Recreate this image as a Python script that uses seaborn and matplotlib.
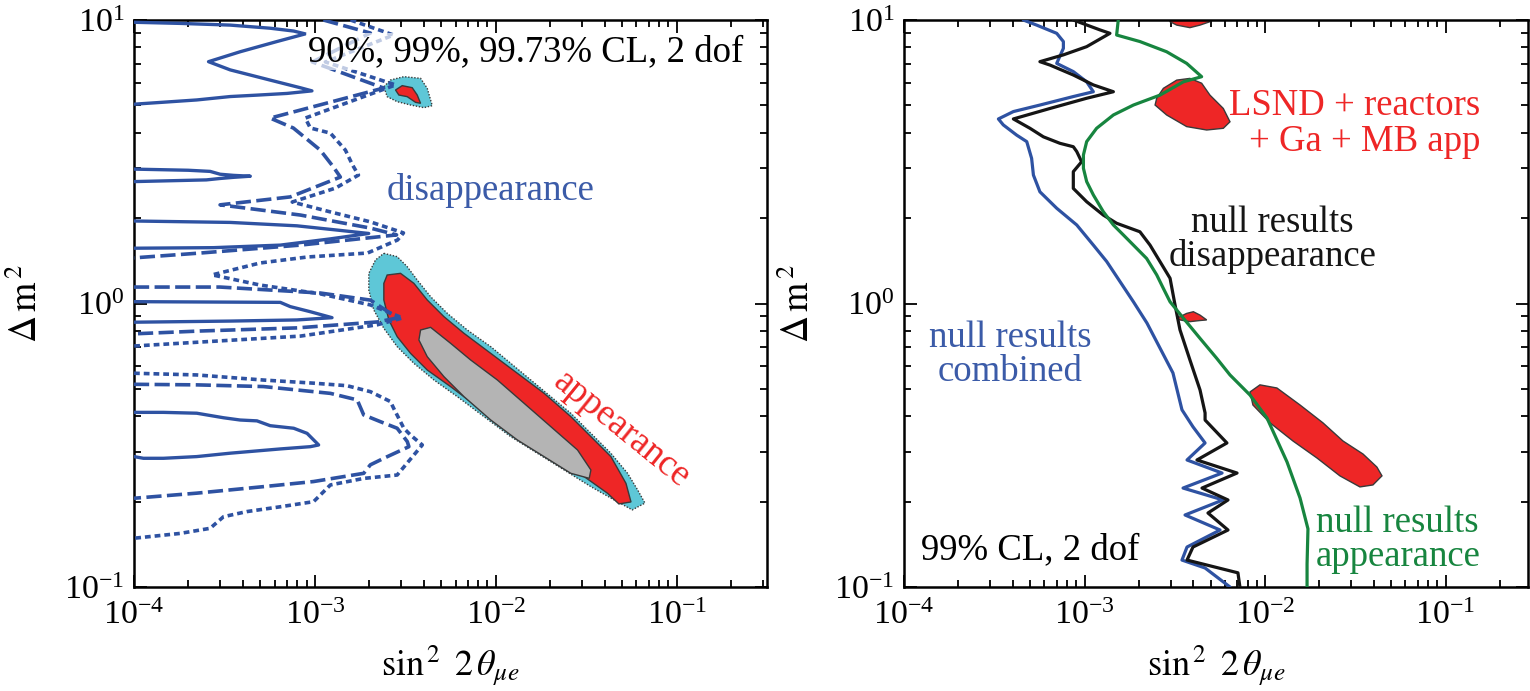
import numpy as np
import matplotlib
matplotlib.use("Agg")
import matplotlib.pyplot as plt
import seaborn as sns
from matplotlib.ticker import LogLocator, LogFormatterMathtext, NullFormatter

# ---------------- data (log10 of sin^2 2theta_mue and of Delta m^2) ----------------
# Left panel: disappearance contours
dis90_top_lx = [-4.0, -3.745, -3.468, -3.247, -3.117, -3.053, -3.210, -3.413, -3.588, -3.468,
                -3.247, -3.080, -3.016, -3.154, -3.320, -3.468, -3.653, -3.837, -4.0]
dis90_top_ly = [0.992, 0.988, 0.982, 0.971, 0.961, 0.951, 0.924, 0.888, 0.853, 0.824,
                0.788, 0.761, 0.750, 0.741, 0.735, 0.730, 0.718, 0.710, 0.703]
dis90_mid_lx = [-4.0, -3.70, -3.579, -3.524, -3.45, -3.357, -3.45, -3.524, -3.60, -4.0]
dis90_mid_ly = [0.474, 0.470, 0.466, 0.456, 0.452, 0.449, 0.445, 0.441, 0.436, 0.430]
dis90_spk_lx = [-4.0, -3.468, -3.099, -2.877, -2.702, -2.914, -3.191, -3.560, -4.0]
dis90_spk_ly = [0.291, 0.286, 0.274, 0.259, 0.247, 0.228, 0.206, 0.197, 0.195]
dis90_one_lx = [-4.0, -3.191, -3.136, -3.025, -2.905, -3.099, -3.468, -4.0]
dis90_one_ly = [0.0065, 0.004, -0.011, -0.029, -0.050, -0.058, -0.062, -0.066]
dis90_low_lx = [-4.0, -3.837, -3.653, -3.505, -3.413, -3.320, -3.247, -3.117, -3.043, -2.979,
                -3.025, -3.191, -3.468, -3.653, -3.837, -3.948, -4.0]
dis90_low_ly = [-0.384, -0.384, -0.387, -0.403, -0.411, -0.414, -0.431, -0.440, -0.458, -0.499,
                -0.505, -0.513, -0.528, -0.540, -0.546, -0.546, -0.540]

dis99_a_lx = [-2.953, -2.693, -3.014, -2.620, -3.247, -3.119, -2.970, -2.898, -2.859, -3.136,
              -3.524, -3.080, -2.693, -2.548, -3.080, -3.634, -4.0]
dis99_a_ly = [1.0, 0.954, 0.852, 0.760, 0.654, 0.619, 0.541, 0.482, 0.446, 0.376,
              0.348, 0.312, 0.266, 0.242, 0.206, 0.178, 0.161]
dis99_b_lx = [-4.0, -3.524, -2.970, -2.693, -2.543, -2.654, -3.097, -3.634, -4.0]
dis99_b_ly = [0.058, 0.058, 0.037, 0.012, -0.051, -0.065, -0.086, -0.097, -0.107]
dis99_c_lx = [-4.0, -3.653, -3.284, -3.099, -2.914, -2.766, -2.730, -2.637, -2.545, -2.489,
              -2.480, -2.619, -2.693, -2.730, -3.007, -3.284, -3.653, -4.0]
dis99_c_ly = [-0.285, -0.287, -0.293, -0.305, -0.317, -0.340, -0.393, -0.417, -0.440, -0.487,
              -0.505, -0.546, -0.569, -0.599, -0.628, -0.646, -0.669, -0.687]

dis997_a_lx = [-2.803, -2.565, -2.942, -2.554, -3.053, -3.025, -2.914, -2.831, -2.792, -2.759,
               -2.886, -3.125, -2.914, -2.693, -2.510, -2.543, -2.709, -3.042, -3.302, -3.568,
               -3.302, -2.970, -2.693, -2.515, -2.654, -3.080, -3.634, -4.0]
dis997_a_ly = [1.0, 0.947, 0.852, 0.771, 0.654, 0.619, 0.601, 0.541, 0.489, 0.453,
               0.407, 0.358, 0.323, 0.288, 0.249, 0.224, 0.178, 0.164, 0.143, 0.101,
               0.065, 0.034, -0.005, -0.051, -0.075, -0.115, -0.136, -0.150]
dis997_c_lx = [-4.0, -3.653, -3.284, -3.007, -2.822, -2.693, -2.582, -2.564, -2.508, -2.471,
               -2.406, -2.545, -2.730, -2.914, -3.007, -3.191, -3.376, -3.505, -3.579, -3.745, -4.0]
dis997_c_ly = [-0.246, -0.252, -0.270, -0.281, -0.290, -0.311, -0.346, -0.370, -0.440, -0.464,
               -0.499, -0.605, -0.617, -0.640, -0.699, -0.717, -0.734, -0.752, -0.793, -0.811, -0.828]

# Left panel: appearance allowed regions
app997_lx = [-2.6186, -2.5448, -2.4894, -2.4340, -2.3601, -2.2678, -2.1570, -2.0277, -1.9169, -1.8061,
             -1.6953, -1.5845, -1.4737, -1.3629, -1.2710, -1.2151, -1.175, -1.245, -1.3444, -1.4737,
             -1.6214, -1.7692, -1.9169, -2.0646, -2.2124, -2.3416, -2.4525, -2.5448, -2.6186, -2.6740,
             -2.7017, -2.7017, -2.6648]
app997_ly = [0.1770, 0.1652, 0.1299, 0.0829, 0.0241, -0.0347, -0.0935, -0.1522, -0.2110, -0.2698,
             -0.3286, -0.3874, -0.4580, -0.5285, -0.5990, -0.6578, -0.704, -0.728, -0.6931, -0.6461,
             -0.5873, -0.5285, -0.4697, -0.3992, -0.3286, -0.2698, -0.2110, -0.1522, -0.0876, -0.0229,
             0.0476, 0.1064, 0.1535]
app99_lx = [-2.6002, -2.5263, -2.4524, -2.3786, -2.2862, -2.1754, -2.0277, -1.8800, -1.7322, -1.5845,
            -1.4737, -1.3629, -1.2798, -1.252, -1.319, -1.3813, -1.5106, -1.6583, -1.8061, -1.9538,
            -2.1016, -2.2493, -2.3786, -2.4710, -2.5448, -2.5909, -2.6186, -2.6186]
app99_ly = [0.1005, 0.1064, 0.0711, 0.0124, -0.0464, -0.1052, -0.1758, -0.2463, -0.3169, -0.3992,
            -0.4697, -0.5403, -0.6343, -0.700, -0.707, -0.6696, -0.6108, -0.5520, -0.4932, -0.4344,
            -0.3639, -0.2934, -0.2346, -0.1758, -0.1170, -0.0582, 0.0124, 0.0711]
app90_lx = [-2.4155, -2.3601, -2.2493, -2.1385, -1.9908, -1.8430, -1.6953, -1.5476, -1.4737, -1.4830,
            -1.5845, -1.7322, -1.8800, -2.0277, -2.1754, -2.2862, -2.3786, -2.4247]
app90_ly = [-0.0935, -0.0841, -0.1405, -0.1993, -0.2698, -0.3521, -0.4344, -0.5167, -0.5873, -0.6167,
            -0.5990, -0.5403, -0.4815, -0.4108, -0.3286, -0.2581, -0.1875, -0.1287]
isl997_lx = [-2.6187, -2.5817, -2.5078, -2.4155, -2.3786, -2.3509, -2.3970, -2.4709, -2.5448, -2.6002]
isl997_ly = [0.7648, 0.7884, 0.8001, 0.7942, 0.7590, 0.6978, 0.6908, 0.7002, 0.7119, 0.7296]
isl99_lx = [-2.5540, -2.5171, -2.4617, -2.4340, -2.4155, -2.4432, -2.4894, -2.5356]
isl99_ly = [0.7531, 0.7684, 0.7613, 0.7354, 0.7061, 0.7096, 0.7296, 0.7354]

# Right panel: 99% CL null-result bounds
comb_lx = [-3.339, -3.265, -3.154, -3.117, -3.117, -3.154, -3.062, -2.988, -2.951, -3.062,
           -3.247, -3.394, -3.477, -3.450, -3.376, -3.320, -3.293, -3.283, -3.247, -3.154,
           -3.043, -2.951, -2.877, -2.803, -2.729, -2.654, -2.510, -2.460, -2.399, -2.332,
           -2.432, -2.238, -2.454, -2.233, -2.443, -2.249, -2.432, -2.460, -2.332, -2.194]
comb_ly = [1.0, 0.982, 0.953, 0.924, 0.900, 0.847, 0.818, 0.782, 0.747, 0.730,
           0.700, 0.677, 0.651, 0.630, 0.594, 0.571, 0.512, 0.453, 0.394, 0.336,
           0.277, 0.206, 0.148, 0.077, 0.006, -0.069, -0.245, -0.375, -0.435, -0.492,
           -0.552, -0.598, -0.651, -0.693, -0.746, -0.799, -0.859, -0.905, -0.933, -1.0]
disn_lx = [-3.062, -2.914, -2.859, -2.988, -3.117, -3.247, -3.191, -3.062, -2.951, -2.840,
           -2.988, -3.191, -3.394, -3.302, -3.228, -3.136, -3.062, -3.043, -3.016, -3.062,
           -3.062, -2.988, -2.896, -2.822, -2.693, -2.637, -2.582, -2.526, -2.500, -2.471,
           -2.416, -2.360, -2.332, -2.332, -2.211, -2.377, -2.155, -2.349, -2.205, -2.316,
           -2.205, -2.399, -2.432, -2.150, -2.139]
disn_ly = [1.0, 0.965, 0.953, 0.906, 0.877, 0.853, 0.841, 0.806, 0.771, 0.747,
           0.724, 0.688, 0.651, 0.618, 0.588, 0.565, 0.553, 0.536, 0.500, 0.465,
           0.406, 0.359, 0.312, 0.283, 0.253, 0.206, 0.148, 0.089, 0.0, -0.093,
           -0.199, -0.305, -0.386, -0.411, -0.492, -0.552, -0.598, -0.651, -0.693, -0.739,
           -0.799, -0.859, -0.905, -0.950, -1.0]
appn_lx = [-2.813, -2.822, -2.693, -2.545, -2.434, -2.351, -2.452, -2.582, -2.729, -2.840,
           -2.933, -2.988, -3.006, -3.006, -2.988, -2.951, -2.896, -2.840, -2.785, -2.729,
           -2.656, -2.600, -2.563, -2.526, -2.452, -2.360, -2.268, -2.194, -2.083, -1.989,
           -1.878, -1.806, -1.762, -1.767, -1.767]
appn_ly = [1.0, 0.947, 0.924, 0.888, 0.847, 0.800, 0.782, 0.735, 0.700, 0.665,
           0.618, 0.571, 0.524, 0.477, 0.430, 0.383, 0.324, 0.277, 0.242, 0.206,
           0.159, 0.101, 0.053, 0.006, -0.052, -0.123, -0.193, -0.252, -0.323, -0.404,
           -0.559, -0.686, -0.795, -0.919, -1.0]
# Right panel: LSND + reactors + Ga + MB app allowed islands
lsnd1_lx = [-2.53, -2.526, -2.489, -2.416, -2.360, -2.305, -2.30]
lsnd1_ly = [1.03, 0.994, 0.982, 0.973, 0.982, 0.994, 1.03]
lsnd2_lx = [-2.609, -2.600, -2.563, -2.489, -2.416, -2.351, -2.305, -2.231, -2.194, -2.231,
            -2.323, -2.434, -2.545]
lsnd2_ly = [0.700, 0.724, 0.759, 0.788, 0.794, 0.777, 0.735, 0.688, 0.641, 0.618,
            0.612, 0.624, 0.665]
lsnd3_lx = [-2.489, -2.434, -2.397, -2.360, -2.323, -2.360, -2.416, -2.471]
lsnd3_ly = [-0.052, -0.035, -0.029, -0.041, -0.058, -0.060, -0.064, -0.058]
lsnd4_lx = [-2.083, -2.028, -1.934, -1.806, -1.679, -1.568, -1.457, -1.380, -1.352, -1.402,
            -1.474, -1.585, -1.712, -1.845, -1.972, -2.067]
lsnd4_ly = [-0.312, -0.287, -0.298, -0.358, -0.421, -0.485, -0.531, -0.577, -0.608, -0.640,
            -0.647, -0.608, -0.545, -0.485, -0.421, -0.358]

# ---------------- style ----------------
sns.set_theme(style="ticks")
plt.rcParams["font.family"] = ["Liberation Serif", "DejaVu Serif"]
plt.rcParams["mathtext.fontset"] = "stix"

BLUE = "#2E52A2"
BLACK = "#151515"
GREEN = "#17853F"
RED = "#EE2626"
CYAN = "#5EC7D7"
GRAY = "#B4B4B4"
EDGE = "#3A3A3A"
DASH = (0, (4.2, 1.5))
DOT = (0, (1.6, 1.1))

fig = plt.figure(figsize=(15.3, 6.91), dpi=100)
axL = fig.add_axes([134 / 1530, 104 / 691, 633 / 1530, 567 / 691])
axR = fig.add_axes([904 / 1530, 104 / 691, 624 / 1530, 567 / 691])
for ax in (axL, axR):
    ax.set_xscale("log")
    ax.set_yscale("log")


def curve(ax, lx, ly, color, ls="-", lw=2.6, z=4):
    sns.lineplot(x=10 ** np.asarray(lx), y=10 ** np.asarray(ly), ax=ax, sort=False,
                 estimator=None, color=color, linewidth=lw, linestyle=ls, zorder=z)


def region(ax, lx, ly, face, ls="-", z=2):
    ax.fill(10 ** np.asarray(lx), 10 ** np.asarray(ly), facecolor=face, edgecolor=EDGE,
            linewidth=1.0, linestyle=ls, zorder=z)


# left panel
region(axL, app997_lx, app997_ly, CYAN, ls=(0, (1, 1.2)), z=1)
region(axL, app99_lx, app99_ly, RED, z=2)
region(axL, app90_lx, app90_ly, GRAY, z=3)
region(axL, isl997_lx, isl997_ly, CYAN, ls=(0, (1, 1.2)), z=1)
region(axL, isl99_lx, isl99_ly, RED, z=2)
for lx, ly in ((dis90_top_lx, dis90_top_ly), (dis90_mid_lx, dis90_mid_ly),
               (dis90_spk_lx, dis90_spk_ly), (dis90_one_lx, dis90_one_ly),
               (dis90_low_lx, dis90_low_ly)):
    curve(axL, lx, ly, BLUE, "-", 2.4)
for lx, ly in ((dis99_a_lx, dis99_a_ly), (dis99_b_lx, dis99_b_ly), (dis99_c_lx, dis99_c_ly)):
    curve(axL, lx, ly, BLUE, DASH, 2.6)
for lx, ly in ((dis997_a_lx, dis997_a_ly), (dis997_c_lx, dis997_c_ly)):
    curve(axL, lx, ly, BLUE, DOT, 2.6)

# right panel
for lx, ly in ((lsnd1_lx, lsnd1_ly), (lsnd2_lx, lsnd2_ly), (lsnd3_lx, lsnd3_ly), (lsnd4_lx, lsnd4_ly)):
    region(axR, lx, ly, RED, z=2)
curve(axR, comb_lx, comb_ly, BLUE, "-", 2.3)
curve(axR, disn_lx, disn_ly, BLACK, "-", 2.3)
curve(axR, appn_lx, appn_ly, GREEN, "-", 2.3)

# axes cosmetics
for ax, xmax in ((axL, 10 ** -0.5), (axR, 10 ** -0.543)):
    ax.set_xlim(1e-4, xmax)
    ax.set_ylim(0.1, 10)
    for axis in (ax.xaxis, ax.yaxis):
        axis.set_major_locator(LogLocator(base=10, numticks=12))
        axis.set_minor_locator(LogLocator(base=10, subs=np.arange(2, 10), numticks=12))
        axis.set_major_formatter(LogFormatterMathtext())
        axis.set_minor_formatter(NullFormatter())
    ax.tick_params(which="both", direction="in", top=True, right=True, width=1.3,
                   color="black", labelcolor="black", labelsize=24.5)
    ax.tick_params(which="major", length=9)
    ax.tick_params(axis="x", which="major", pad=10)
    ax.tick_params(axis="y", which="major", pad=7)
    ax.tick_params(which="minor", length=5)
    for s in ax.spines.values():
        s.set_linewidth(1.8)
        s.set_color("black")
    ax.set_xlabel(r"$\sin^{\,2}\ 2\,\theta_{\mu e}$", fontsize=26, color="black")
    ax.set_ylabel(r"$\Delta\,\mathrm{m}^{\,2}$", fontsize=27, color="black")
    ax.xaxis.set_label_coords(0.5, -0.100)
    ax.yaxis.set_label_coords(-0.14, 0.5)
    ax.grid(False)

TXT = dict(fontsize=26.5)
axL.text(0.962, 0.944, "90%, 99%, 99.73% CL, 2 dof", transform=axL.transAxes, ha="right",
         va="center", color="black", zorder=6,
         bbox=dict(facecolor="white", alpha=0.7, edgecolor="none", pad=1), **TXT)
axL.text(0.564, 0.700, "disappearance", transform=axL.transAxes, ha="center", va="center",
         color="#3B5BA8", **TXT)
axL.text(0.771, 0.277, "appearance", transform=axL.transAxes, ha="center", va="center",
         color=RED, rotation=-39, rotation_mode="anchor", **TXT)

axR.text(0.923, 0.817, "LSND + reactors\n+ Ga + MB app", transform=axR.transAxes, ha="right",
         va="center", multialignment="right", color=RED, linespacing=1.05, **TXT)
axR.text(0.590, 0.612, "null results\ndisappearance", transform=axR.transAxes, ha="center",
         va="center", multialignment="center", color=BLACK, linespacing=0.98, **TXT)
axR.text(0.170, 0.409, "null results\ncombined", transform=axR.transAxes, ha="center",
         va="center", multialignment="center", color="#3B5BA8", linespacing=0.98, **TXT)
axR.text(0.660, 0.083, "null results\nappearance", transform=axR.transAxes, ha="left",
         va="center", multialignment="left", color=GREEN, linespacing=0.98, **TXT)
axR.text(0.027, 0.065, "99% CL, 2 dof", transform=axR.transAxes, ha="left", va="center",
         color="black", **TXT)

fig.savefig("out.png", dpi=100, facecolor="white")
